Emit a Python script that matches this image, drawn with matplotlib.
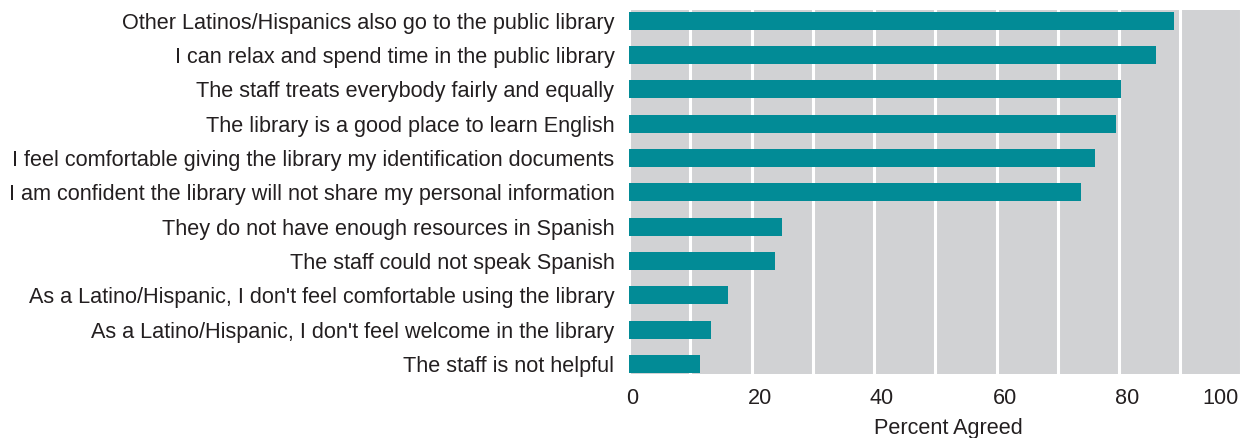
import matplotlib.pyplot as plt
import matplotlib.transforms as mtransforms

# Survey statements and share of respondents who agreed (%)
statements = [
    "Other Latinos/Hispanics also go to the public library",
    "I can relax and spend time in the public library",
    "The staff treats everybody fairly and equally",
    "The library is a good place to learn English",
    "I feel comfortable giving the library my identification documents",
    "I am confident the library will not share my personal information",
    "They do not have enough resources in Spanish",
    "The staff could not speak Spanish",
    "As a Latino/Hispanic, I don't feel comfortable using the library",
    "As a Latino/Hispanic, I don't feel welcome in the library",
    "The staff is not helpful",
]
agreed = [89.0, 86.1, 80.3, 79.5, 76.0, 73.8, 25.0, 23.9, 16.1, 13.4, 11.6]
xticks = [0, 20, 40, 60, 80, 100]

plt.rcParams['font.family'] = ['Liberation Sans', 'DejaVu Sans']
text_color = '#231f20'
fsize = 15.6

fig = plt.figure(figsize=(12.41, 4.38), dpi=100)
ax = fig.add_axes([0.5069, 0.1461, 0.4935, 0.8311])

ax.set_facecolor('#d1d2d4')
ax.barh(range(len(statements)), agreed, height=0.52, color='#028b96', zorder=3)

ax.set_xlim(0, 100)
ax.set_ylim(len(statements) - 0.71, -0.31)

# white vertical grid every 10 points
ax.set_xticks(range(10, 100, 10), minor=True)
ax.grid(axis='x', which='both', color='white', linewidth=2.2, zorder=1)
ax.grid(axis='y', visible=False)

ax.set_xticks(xticks)
ax.set_xticklabels([str(t) for t in xticks])
ax.set_yticks(range(len(statements)))
ax.set_yticklabels(statements)

ax.tick_params(axis='both', which='both', length=0, labelsize=fsize, colors=text_color)
ax.tick_params(axis='y', pad=10.5)
ax.tick_params(axis='x', pad=10)

# nudge the tick labels so the end labels stay inside the figure
labels = ax.get_xticklabels()
for i, lab in enumerate(labels):
    if i == 0:
        lab.set_horizontalalignment('left')
        dx = -3
    elif i == len(labels) - 1:
        lab.set_horizontalalignment('right')
        dx = -3
    else:
        dx = 8
    lab.set_transform(lab.get_transform() + mtransforms.ScaledTranslation(dx / 100, 0, fig.dpi_scale_trans))

ax.set_xlabel('Percent Agreed', fontsize=fsize, color=text_color)
ax.xaxis.set_label_coords(0.522, -0.122)

for spine in ax.spines.values():
    spine.set_visible(False)

fig.savefig('out.png', dpi=100)
